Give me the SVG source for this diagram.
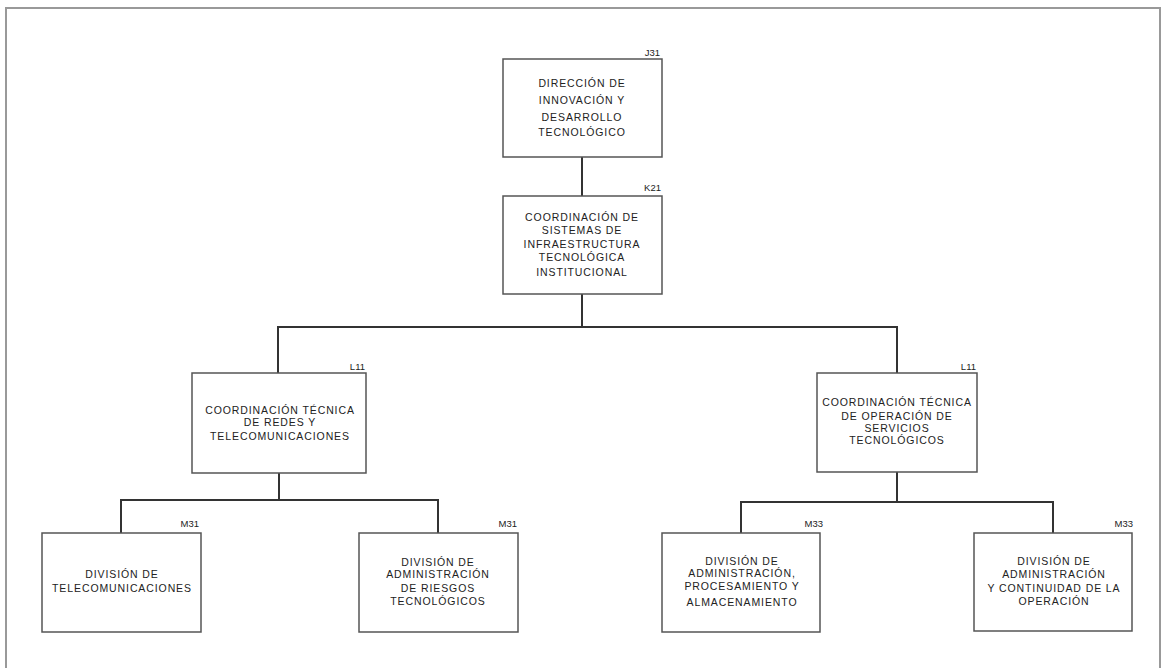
<svg xmlns="http://www.w3.org/2000/svg" width="1161" height="668" viewBox="0 0 1161 668">
<style>
.box{fill:#fff;stroke:#555;stroke-width:1.5}
.t{font-family:"Liberation Sans",Arial,sans-serif;font-size:10.5px;fill:#222;text-anchor:middle;letter-spacing:0.9px}
.lb{font-family:"Liberation Sans",Arial,sans-serif;font-size:9.5px;fill:#222;text-anchor:end}
.c{fill:none;stroke:#333;stroke-width:2}
</style>
<rect x="0" y="0" width="1161" height="668" fill="#fff"/>
<path d="M6,680 V8 H1160 V680" fill="none" stroke="#999" stroke-width="2"/>
<g id="connectors">
<path class="c" d="M582,157 V196"/>
<path class="c" d="M582,294 V327 M278,373 V327 H897 V373"/>
<path class="c" d="M279,473 V500 M121,533 V500 H438 V533"/>
<path class="c" d="M897,472 V502 M741,533 V502 H1053 V533"/>
</g>
<g id="J31">
<rect class="box" x="503" y="59" width="159" height="98"/>
<text class="lb" x="660" y="56">J31</text>
<text class="t" x="582"><tspan x="582" y="87">DIRECCIÓN DE</tspan><tspan x="582" y="104">INNOVACIÓN Y</tspan><tspan x="582" y="121">DESARROLLO</tspan><tspan x="582" y="136">TECNOLÓGICO</tspan></text>
</g>
<g id="K21">
<rect class="box" x="503" y="196" width="159" height="98"/>
<text class="lb" x="661" y="191">K21</text>
<text class="t" x="582"><tspan x="582" y="221">COORDINACIÓN DE</tspan><tspan x="582" y="234">SISTEMAS DE</tspan><tspan x="582" y="248">INFRAESTRUCTURA</tspan><tspan x="582" y="261">TECNOLÓGICA</tspan><tspan x="582" y="276">INSTITUCIONAL</tspan></text>
</g>
<g id="L11a">
<rect class="box" x="192" y="373" width="174" height="100"/>
<text class="lb" x="365" y="370">L11</text>
<text class="t" x="280"><tspan x="280" y="414">COORDINACIÓN TÉCNICA</tspan><tspan x="280" y="426">DE REDES Y</tspan><tspan x="280" y="440">TELECOMUNICACIONES</tspan></text>
</g>
<g id="L11b">
<rect class="box" x="817" y="373" width="160" height="99"/>
<text class="lb" x="976" y="370">L11</text>
<text class="t" x="897"><tspan x="897" y="406">COORDINACIÓN TÉCNICA</tspan><tspan x="897" y="420">DE OPERACIÓN DE</tspan><tspan x="897" y="432">SERVICIOS</tspan><tspan x="897" y="444">TECNOLÓGICOS</tspan></text>
</g>
<g id="M31a">
<rect class="box" x="42" y="533" width="159" height="99"/>
<text class="lb" x="199" y="527">M31</text>
<text class="t" x="122"><tspan x="122" y="578">DIVISIÓN DE</tspan><tspan x="122" y="592">TELECOMUNICACIONES</tspan></text>
</g>
<g id="M31b">
<rect class="box" x="359" y="533" width="159" height="99"/>
<text class="lb" x="517" y="527">M31</text>
<text class="t" x="438"><tspan x="438" y="566">DIVISIÓN DE</tspan><tspan x="438" y="578">ADMINISTRACIÓN</tspan><tspan x="438" y="592">DE RIESGOS</tspan><tspan x="438" y="605">TECNOLÓGICOS</tspan></text>
</g>
<g id="M33a">
<rect class="box" x="662" y="533" width="158" height="99"/>
<text class="lb" x="823" y="527">M33</text>
<text class="t" x="742"><tspan x="742" y="565">DIVISIÓN DE</tspan><tspan x="742" y="577">ADMINISTRACIÓN,</tspan><tspan x="742" y="590">PROCESAMIENTO Y</tspan><tspan x="742" y="606">ALMACENAMIENTO</tspan></text>
</g>
<g id="M33b">
<rect class="box" x="974" y="533" width="158" height="98"/>
<text class="lb" x="1133" y="527">M33</text>
<text class="t" x="1054"><tspan x="1054" y="565">DIVISIÓN DE</tspan><tspan x="1054" y="578">ADMINISTRACIÓN</tspan><tspan x="1054" y="592">Y CONTINUIDAD DE LA</tspan><tspan x="1054" y="605">OPERACIÓN</tspan></text>
</g>
</svg>
